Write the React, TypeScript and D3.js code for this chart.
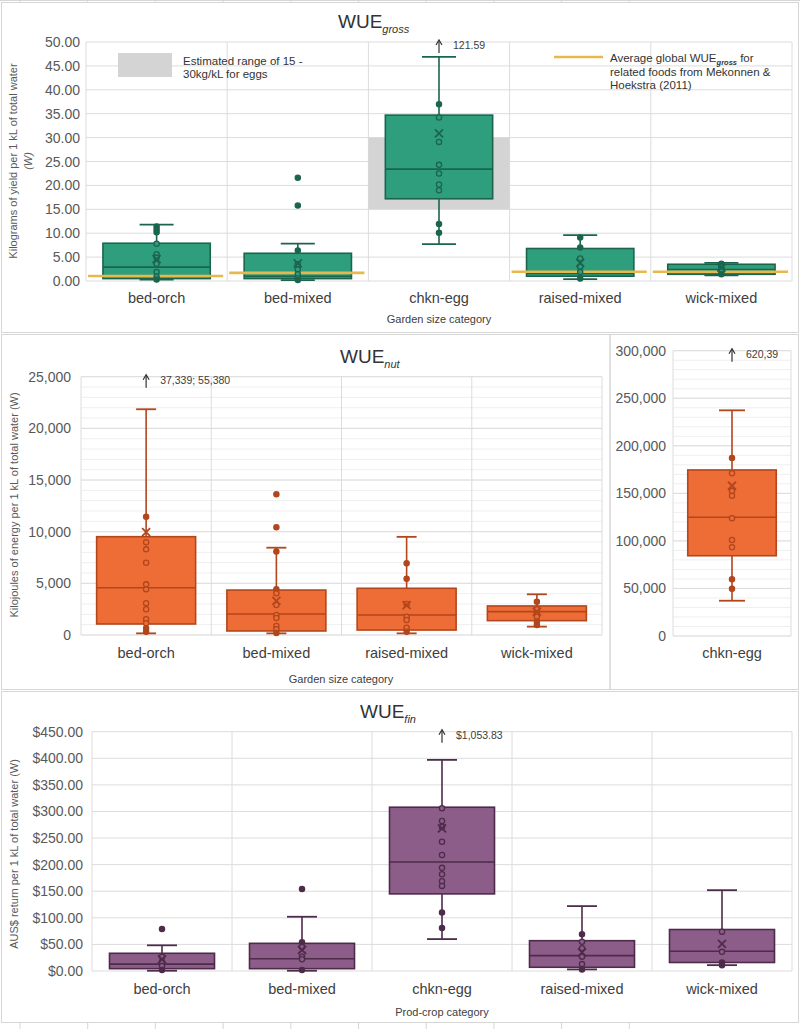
import React from "react";
import * as d3 from "d3";

const FONT = "'Liberation Sans', Arial, Helvetica, sans-serif";

// ---------- categories ----------
const categories5 = ["bed-orch", "bed-mixed", "chkn-egg", "raised-mixed", "wick-mixed"];
const nutCategories = ["bed-orch", "bed-mixed", "raised-mixed", "wick-mixed"];
const nutEggCategories = ["chkn-egg"];

// ---------- WUE gross (kg / kL) ----------
const grossTicks = [0, 5, 10, 15, 20, 25, 30, 35, 40, 45, 50];
const grossLow = [0.3, 0.2, 7.7, 0.4, 1.2];
const grossQ1 = [0.5, 0.5, 17.2, 1.0, 1.4];
const grossMedian = [2.9, 1.0, 23.4, 1.6, 2.4];
const grossQ3 = [7.9, 5.8, 34.7, 6.8, 3.5];
const grossHigh = [11.8, 7.8, 46.9, 9.6, 3.8];
const grossMean = [4.6, 3.7, 30.9, 3.8, 2.8];
const grossPoints = [
  [11.4, 10.8, 10.2, 7.8, 5.6, 4.9, 3.6, 1.9, 0.9, 0.3],
  [21.6, 15.8, 6.4, 3.5, 2.4, 1.4, 0.6, 0.2],
  [37.0, 34.2, 29.1, 24.3, 22.5, 20.2, 19.0, 11.9, 10.1],
  [9.1, 7.0, 4.7, 3.0, 1.9, 0.5],
  [3.6, 3.0, 2.6, 2.0, 1.4],
];
const grossGlobalAvg = [1.05, 1.7, null, 1.95, 1.95];
const grossEggRange = [15, 30];
const grossOffChart = ["", "", "121.59", "", ""];

// ---------- WUE nut (kJ / kL) ----------
const nutTicks = [0, 5000, 10000, 15000, 20000, 25000];
const nutMinorTicks = d3.range(0, 25001, 1000);
const nutLow = [160, 160, 160, 810];
const nutQ1 = [1065, 390, 480, 1390];
const nutMedian = [4580, 2030, 1940, 2260];
const nutQ3 = [9515, 4350, 4520, 2810];
const nutHigh = [21850, 8450, 9500, 3940];
const nutMean = [9950, 3300, 2900, 2250];
const nutPoints = [
  [11450, 8970, 8290, 7000, 4900, 4420, 3070, 2490, 1520, 1130, 650, 320],
  [13620, 10420, 8070, 4420, 4030, 2900, 1940, 1650, 870, 550, 200],
  [6940, 5450, 3000, 1770, 1450, 710, 320],
  [3230, 2490, 2100, 1770, 1290, 970],
];
const nutOffChart = ["37,339;  55,380", "", "", ""];

const nutEggTicks = [0, 50000, 100000, 150000, 200000, 250000, 300000];
const nutEggMinorTicks = d3.range(0, 300001, 10000);
const nutEggLow = [37100];
const nutEggQ1 = [84400];
const nutEggMedian = [124800];
const nutEggQ3 = [174600];
const nutEggHigh = [237300];
const nutEggMean = [158000];
const nutEggPoints = [[187200, 171100, 152400, 147500, 123800, 100900, 93300, 59600, 49700]];
const nutEggOffChart = ["620,39"];

// ---------- WUE fin (AUS$ / kL) ----------
const finTicks = [0, 50, 100, 150, 200, 250, 300, 350, 400, 450];
const finLow = [0.5, 0.5, 60, 3, 11];
const finQ1 = [4.4, 4.4, 145, 7, 16];
const finMedian = [13, 23, 205, 29, 37];
const finQ3 = [33.3, 52, 308, 57, 78];
const finHigh = [48.3, 102, 397, 122, 152];
const finMean = [22, 39.5, 268, 35, 51];
const finPoints = [
  [79, 27, 17.5, 9.4, 2],
  [154, 54, 45, 27, 22, 2],
  [306, 282, 271, 243, 218, 194, 182, 169, 160, 110, 81],
  [69, 55, 43, 27, 13, 3],
  [74, 36, 16, 11],
];
const finOffChart = ["", "", "$1,053.83", "", ""];

// ---------- colours ----------
const GREEN = { fill: "#2f9e7d", stroke: "#1b654f" };
const ORANGE = { fill: "#ee6d36", stroke: "#b2461c" };
const PURPLE = { fill: "#8c5d88", stroke: "#4e2b4b" };
const GOLD = "#e8b74e";
const RANGE_GREY = "#d4d4d4";
const GRID = "#dcdcdc";
const MINOR = "#efefef";
const FRAME = "#d6d6d6";
const TICK_COL = "#595959";
const LABEL_COL = "#404040";

type BoxProps = {
  cats: string[];
  x: d3.ScaleBand<string>;
  y: d3.ScaleLinear<number, number>;
  low: number[]; q1: number[]; med: number[]; q3: number[]; high: number[]; mean: number[];
  points: number[][];
  off: string[];
  frac: number;
  capW: number;
  color: { fill: string; stroke: string };
  overlay?: React.ReactNode;
};

function Boxes(p: BoxProps) {
  const [lo, hi] = p.y.domain();
  const bw = p.x.bandwidth() * p.frac;
  return (
    <g>
      {p.cats.map((c, i) => {
        const cx = (p.x(c) as number) + p.x.bandwidth() / 2;
        return (
          <g key={c}>
            <line x1={cx} x2={cx} y1={p.y(p.high[i])} y2={p.y(p.q3[i])} stroke={p.color.stroke} strokeWidth={1.6} />
            <line x1={cx} x2={cx} y1={p.y(p.q1[i])} y2={p.y(p.low[i])} stroke={p.color.stroke} strokeWidth={1.6} />
            <line x1={cx - p.capW / 2} x2={cx + p.capW / 2} y1={p.y(p.high[i])} y2={p.y(p.high[i])} stroke={p.color.stroke} strokeWidth={1.8} />
            <line x1={cx - p.capW / 2} x2={cx + p.capW / 2} y1={p.y(p.low[i])} y2={p.y(p.low[i])} stroke={p.color.stroke} strokeWidth={1.8} />
            <rect x={cx - bw / 2} width={bw} y={p.y(p.q3[i])} height={p.y(p.q1[i]) - p.y(p.q3[i])}
              fill={p.color.fill} stroke={p.color.stroke} strokeWidth={1.6} />
            <line x1={cx - bw / 2} x2={cx + bw / 2} y1={p.y(p.med[i])} y2={p.y(p.med[i])} stroke={p.color.stroke} strokeWidth={1.6} />
          </g>
        );
      })}
      {p.overlay}
      {p.cats.map((c, i) => {
        const cx = (p.x(c) as number) + p.x.bandwidth() / 2;
        const my = p.y(p.mean[i]);
        return (
          <g key={c + "pts"}>
            {p.points[i].filter((v) => v >= lo && v <= hi).map((v, j) => {
              const inside = v > p.q1[i] && v < p.q3[i];
              return (
                <circle key={j} cx={cx} cy={p.y(v)} r={2.6}
                  fill={inside ? p.color.fill : p.color.stroke} stroke={p.color.stroke} strokeWidth={1.3} />
              );
            })}
            <path d={`M${cx - 4},${my - 4}L${cx + 4},${my + 4}M${cx - 4},${my + 4}L${cx + 4},${my - 4}`}
              stroke={p.color.stroke} strokeWidth={1.8} fill="none" />
            {p.off[i] ? (
              <g>
                <line x1={cx} x2={cx} y1={p.y(hi) + 11} y2={p.y(hi) - 1} stroke="#333" strokeWidth={1.2} />
                <path d={`M${cx - 3},${p.y(hi) + 3}L${cx},${p.y(hi) - 2}L${cx + 3},${p.y(hi) + 3}`} stroke="#333" strokeWidth={1.2} fill="none" />
                <text x={cx + 14} y={p.y(hi) + 7} fontSize={10.5} fill="#404040">{p.off[i]}</text>
              </g>
            ) : null}
          </g>
        );
      })}
    </g>
  );
}

type GridProps = {
  x: d3.ScaleBand<string>;
  y: d3.ScaleLinear<number, number>;
  ticks: number[];
  minor?: number[];
  fmt: (v: number) => string;
  labelRight: number;
  catY: number;
  catSize?: number;
};

function Grid(g: GridProps) {
  const [x0, x1] = g.x.range();
  const [y0, y1] = g.y.range();
  const bounds = g.x.domain().map((c) => g.x(c) as number).concat([x1]);
  return (
    <g>
      {(g.minor || []).map((t) => (
        <line key={"m" + t} x1={x0} x2={x1} y1={g.y(t)} y2={g.y(t)} stroke={MINOR} strokeWidth={1} />
      ))}
      {g.ticks.map((t) => (
        <line key={"g" + t} x1={x0} x2={x1} y1={g.y(t)} y2={g.y(t)} stroke={GRID} strokeWidth={1} />
      ))}
      {bounds.map((b, i) => (
        <line key={"v" + i} x1={b} x2={b} y1={y0} y2={y1} stroke={GRID} strokeWidth={1} />
      ))}
      {g.ticks.map((t) => (
        <text key={"t" + t} x={g.labelRight} y={g.y(t) + 5} textAnchor="end" fontSize={14} fill={TICK_COL}>
          {g.fmt(t)}
        </text>
      ))}
      {g.x.domain().map((c) => (
        <text key={"c" + c} x={(g.x(c) as number) + g.x.bandwidth() / 2} y={g.catY} textAnchor="middle"
          fontSize={g.catSize || 14.5} fill={LABEL_COL}>
          {c}
        </text>
      ))}
    </g>
  );
}

function Title({ x, y, sub }: { x: number; y: number; sub: string }) {
  return (
    <text x={x} y={y} fontSize={19} fill="#333">
      WUE
      <tspan dy={5} fontSize={11} fontStyle="italic">{sub}</tspan>
    </text>
  );
}

export default function App() {
  const xG = d3.scaleBand<string>().domain(categories5).range([86, 792]);
  const yG = d3.scaleLinear().domain([0, 50]).range([281, 42]);

  const xN = d3.scaleBand<string>().domain(nutCategories).range([81, 602]);
  const yN = d3.scaleLinear().domain([0, 25000]).range([635, 376.7]);

  const xE = d3.scaleBand<string>().domain(nutEggCategories).range([673, 791]);
  const yE = d3.scaleLinear().domain([0, 300000]).range([636, 350.7]);

  const xF = d3.scaleBand<string>().domain(categories5).range([92, 792]);
  const yF = d3.scaleLinear().domain([0, 450]).range([971, 731.7]);

  const fmt2 = d3.format(".2f");
  const fmtC = d3.format(",");
  const fmtD = d3.format("$,.2f");

  const sheetCols = d3.range(20, 640, 67.7);

  const eggBand = xG("chkn-egg") as number;

  const goldLines = (
    <g>
      {categories5.map((c, i) => {
        const v = grossGlobalAvg[i];
        if (v == null) return null;
        const bx = xG(c) as number;
        return (
          <line key={c} x1={bx + 2} x2={bx + xG.bandwidth() - 4} y1={yG(v)} y2={yG(v)} stroke={GOLD} strokeWidth={2.6} />
        );
      })}
    </g>
  );

  return (
    <svg width={800} height={1029} style={{ position: "absolute", left: 0, top: 0, background: "#fff" }}
      fontFamily={FONT}>
      <rect x={0} y={0} width={800} height={1029} fill="#fff" />
      {/* spreadsheet remnants */}
      <line x1={0} x2={800} y1={0.5} y2={0.5} stroke={FRAME} />
      {sheetCols.map((c, i) => (
        <g key={"sc" + i}>
          <line x1={c} x2={c} y1={0} y2={2} stroke={FRAME} />
          <line x1={c} x2={c} y1={1023} y2={1029} stroke={FRAME} />
        </g>
      ))}
      {/* panel frames */}
      <rect x={1.5} y={2.5} width={797} height={330} fill="none" stroke={FRAME} />
      <rect x={1.5} y={334.5} width={608.5} height={355} fill="none" stroke={FRAME} />
      <rect x={610} y={334.5} width={188.5} height={355} fill="none" stroke={FRAME} />
      <rect x={1.5} y={691.5} width={797} height={331} fill="none" stroke={FRAME} />

      {/* ---------- Panel 1: WUE gross ---------- */}
      <Title x={338} y={28} sub="gross" />
      <Grid x={xG} y={yG} ticks={grossTicks} fmt={fmt2} labelRight={80} catY={303} />
      <rect x={eggBand} width={xG.bandwidth()} y={yG(grossEggRange[1])} height={yG(grossEggRange[0]) - yG(grossEggRange[1])}
        fill={RANGE_GREY} />
      <Boxes cats={categories5} x={xG} y={yG} low={grossLow} q1={grossQ1} med={grossMedian} q3={grossQ3}
        high={grossHigh} mean={grossMean} points={grossPoints} off={grossOffChart} frac={0.76} capW={34}
        color={GREEN} overlay={goldLines} />
      {/* legend */}
      <rect x={118} y={53} width={54} height={24} fill={RANGE_GREY} />
      <text x={183} y={65} fontSize={11.5} fill="#333">Estimated range of 15 -</text>
      <text x={183} y={78} fontSize={11.5} fill="#333">30kg/kL for eggs</text>
      <line x1={554} x2={603} y1={57} y2={57} stroke={GOLD} strokeWidth={2.6} />
      <text x={610} y={62} fontSize={11.5} fill="#333">
        Average global WUE<tspan dy={3} fontSize={7.5} fontStyle="italic" fontWeight="bold">gross</tspan>
        <tspan dy={-3}> for</tspan>
      </text>
      <text x={610} y={75.5} fontSize={11.5} fill="#333">related foods from Mekonnen &amp;</text>
      <text x={610} y={89} fontSize={11.5} fill="#333">Hoekstra (2011)</text>
      <text x={439} y={323} textAnchor="middle" fontSize={11} fill={LABEL_COL}>Garden size category</text>
      <text transform="translate(17,161) rotate(-90)" textAnchor="middle" fontSize={11} fill={TICK_COL}>
        Kilograms of yield per 1 kL of total water
      </text>
      <text transform="translate(32,161) rotate(-90)" textAnchor="middle" fontSize={11} fill={TICK_COL}
        fontStyle="italic">(W)</text>

      {/* ---------- Panel 2: WUE nut ---------- */}
      <Title x={340} y={363} sub="nut" />
      <Grid x={xN} y={yN} ticks={nutTicks} minor={nutMinorTicks} fmt={(v) => fmtC(v)} labelRight={71} catY={658} />
      <Boxes cats={nutCategories} x={xN} y={yN} low={nutLow} q1={nutQ1} med={nutMedian} q3={nutQ3}
        high={nutHigh} mean={nutMean} points={nutPoints} off={nutOffChart} frac={0.76} capW={20} color={ORANGE} />
      <text x={341} y={683} textAnchor="middle" fontSize={11} fill={LABEL_COL}>Garden size category</text>
      <text transform="translate(18,505) rotate(-90)" textAnchor="middle" fontSize={11} fill={TICK_COL}>
        Kilojoules of energy per 1 kL of total water (W)
      </text>

      <Grid x={xE} y={yE} ticks={nutEggTicks} minor={nutEggMinorTicks} fmt={(v) => fmtC(v)} labelRight={666} catY={658} />
      <Boxes cats={nutEggCategories} x={xE} y={yE} low={nutEggLow} q1={nutEggQ1} med={nutEggMedian} q3={nutEggQ3}
        high={nutEggHigh} mean={nutEggMean} points={nutEggPoints} off={nutEggOffChart} frac={0.75} capW={26}
        color={ORANGE} />

      {/* ---------- Panel 3: WUE fin ---------- */}
      <Title x={360} y={718} sub="fin" />
      <Grid x={xF} y={yF} ticks={finTicks} fmt={(v) => fmtD(v)} labelRight={83} catY={994} />
      <Boxes cats={categories5} x={xF} y={yF} low={finLow} q1={finQ1} med={finMedian} q3={finQ3}
        high={finHigh} mean={finMean} points={finPoints} off={finOffChart} frac={0.75} capW={30} color={PURPLE} />
      <text x={442} y={1016} textAnchor="middle" fontSize={11} fill={LABEL_COL}>Prod-crop category</text>
      <text transform="translate(18,854) rotate(-90)" textAnchor="middle" fontSize={11} fill={TICK_COL}>
        AUS$ return per 1 kL of total water (W)
      </text>
    </svg>
  );
}
